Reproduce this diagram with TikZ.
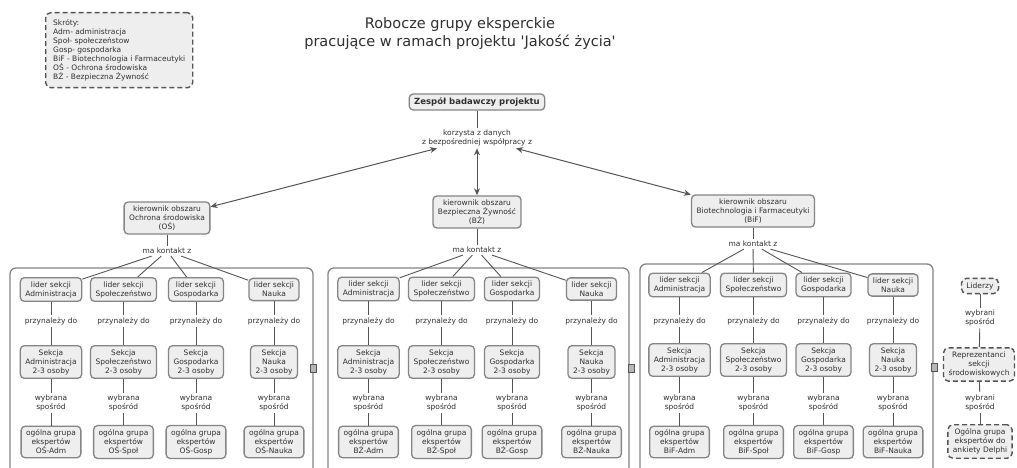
\documentclass[tikz,border=0pt]{standalone}
\usepackage{fontspec}
\setmainfont{DejaVu Sans}
\usetikzlibrary{arrows.meta}
\definecolor{boxfill}{HTML}{EEEEEE}
\definecolor{boxline}{HTML}{858585}
\definecolor{linkc}{HTML}{555555}
\definecolor{txt}{HTML}{303030}
\definecolor{dashc}{HTML}{555555}

% one column of a working group: leader -> section -> expert pool
\newcommand\sectcol[6]{%
  \node[concept] (#1l) at (#2,#5) {lider sekcji\\#3};
  \node[phrase]  (#1p) at (#2,321) {przynależy do};
  \node[concept] (#1s) at (#2,#6) {Sekcja\\#3\\2-3 osoby};
  \node[phrase]  (#1w) at (#2,403) {wybrana\\spośród};
  \node[concept] (#1g) at (#2,442) {ogólna grupa\\ekspertów\\#4};
  \draw[link] (#1l) -- (#1p);
  \draw[link] (#1p) -- (#1s);
  \draw[link] (#1s) -- (#1w);
  \draw[link] (#1w) -- (#1g);
}

\begin{document}
\begin{tikzpicture}[x=1pt,y=-1pt,
  every node/.style={font=\fontsize{7.5}{9}\selectfont, text=txt},
  concept/.style={draw=boxline, fill=boxfill, line width=1.3pt, rounded corners=4pt,
    align=center, inner xsep=5pt, inner ysep=3.7pt},
  dconcept/.style={draw=dashc, fill=boxfill, line width=1.4pt, rounded corners=5pt,
    dash pattern=on 5pt off 3pt, align=center, inner xsep=5pt, inner ysep=4pt},
  phrase/.style={align=center, inner sep=2pt, fill=white},
  link/.style={draw=linkc, line width=0.9pt},
  biarrow/.style={draw=linkc, line width=1pt,
    {Stealth[length=7pt,width=6pt]}-{Stealth[length=7pt,width=6pt]}},
  frame/.style={draw=boxline, line width=1.3pt, rounded corners=6pt},
  expand/.style={draw=linkc, fill=boxline!60, line width=0.7pt, minimum width=6pt,
    minimum height=8pt, inner sep=0pt}
]
\fill[white] (0,0) rectangle (1017,468);
\useasboundingbox (0,0) rectangle (1017,468);

% abbreviations
\node[dconcept, anchor=north west, align=left, minimum width=147pt, minimum height=75pt]
  (abbr) at (45,12) {Skróty:\\Adm- administracja\\Społ- społeczeństow\\Gosp- gospodarka\\BiF - Biotechnologia i Farmaceutyki\\OŚ - Ochrona środowiska\\BŻ - Bezpieczna Żywność};

% title
\node[font=\fontsize{14.5}{18}\selectfont, align=center, text=txt] (title) at (460,34)
  {Robocze grupy eksperckie\\pracujące w ramach projektu \textquotesingle Jakość życia\textquotesingle};

% project team
\node[concept, font=\fontsize{8.5}{10}\selectfont\bfseries] (team) at (477,102) {Zespół badawczy projektu};
\node[phrase] (uses) at (477,138) {korzysta z danych\\z bezpośredniej współpracy z};
\draw[link] (team) -- (uses);

% area heads
\node[concept] (hOS)  at (167,218) {kierownik obszaru\\Ochrona środowiska\\(OŚ)};
\node[concept] (hBZ)  at (477,212) {kierownik obszaru\\Bezpieczna Żywność\\(BŻ)};
\node[concept] (hBiF) at (753,211) {kierownik obszaru\\Biotechnologia i Farmaceutyki\\(BiF)};
\draw[biarrow] (uses) -- (hOS);
\draw[biarrow] (uses) -- (hBZ);
\draw[biarrow] (uses) -- (hBiF);

\node[phrase] (cOS)  at (167,251) {ma kontakt z};
\node[phrase] (cBZ)  at (477,250) {ma kontakt z};
\node[phrase] (cBiF) at (753,244) {ma kontakt z};
\draw[link] (hOS) -- (cOS);
\draw[link] (hBZ) -- (cBZ);
\draw[link] (hBiF) -- (cBiF);

% group frames
\draw[frame] (10,470) |- (313,268) -- (313,470);
\draw[frame] (328,470) |- (629,268) -- (629,470);
\draw[frame] (640,470) |- (933,264) -- (933,470);

% OŚ group
\sectcol{osA}{51}{Administracja}{OŚ-Adm}{289.5}{362}
\sectcol{osS}{123.5}{Społeczeństwo}{OŚ-Społ}{289.5}{362}
\sectcol{osG}{196}{Gospodarka}{OŚ-Gosp}{289.5}{362}
\sectcol{osN}{274}{Nauka}{OŚ-Nauka}{289.5}{362}
\foreach \c in {osA,osS,osG,osN} \draw[link] (cOS) -- (\c l);

% BŻ group
\sectcol{bzA}{368.5}{Administracja}{BŻ-Adm}{289}{362}
\sectcol{bzS}{441.5}{Społeczeństwo}{BŻ-Społ}{289}{362}
\sectcol{bzG}{512}{Gospodarka}{BŻ-Gosp}{289}{362}
\sectcol{bzN}{591.5}{Nauka}{BŻ-Nauka}{289}{362}
\foreach \c in {bzA,bzS,bzG,bzN} \draw[link] (cBZ) -- (\c l);

% BiF group
\sectcol{bfA}{679.5}{Administracja}{BiF-Adm}{285}{360}
\sectcol{bfS}{753.5}{Społeczeństwo}{BiF-Społ}{285}{360}
\sectcol{bfG}{823.5}{Gospodarka}{BiF-Gosp}{285}{360}
\sectcol{bfN}{893}{Nauka}{BiF-Nauka}{285}{360}
\foreach \c in {bfA,bfS,bfG,bfN} \draw[link] (cBiF) -- (\c l);

% expand markers on the frames
\node[expand] (xOS)  at (313,368) {};
\node[expand] (xBZ)  at (631,368) {};
\node[expand] (xBiF) at (934,367) {};

% selection chain
\node[dconcept] (lead) at (980,286) {Liderzy};
\node[phrase]   (sel1) at (980,318) {wybrani\\spośród};
\node[dconcept] (repr) at (979,364.5) {Reprezentanci\\sekcji\\środowiskowych};
\node[phrase]   (sel2) at (980,402.5) {wybrani\\spośród};
\node[dconcept] (delphi) at (980,441.5) {Ogólna grupa\\ekspertów do\\ankiety Delphi};
\draw[link] (lead) -- (sel1);
\draw[link] (sel1) -- (repr);
\draw[link] (repr) -- (sel2);
\draw[link] (sel2) -- (delphi);
\end{tikzpicture}
\end{document}
